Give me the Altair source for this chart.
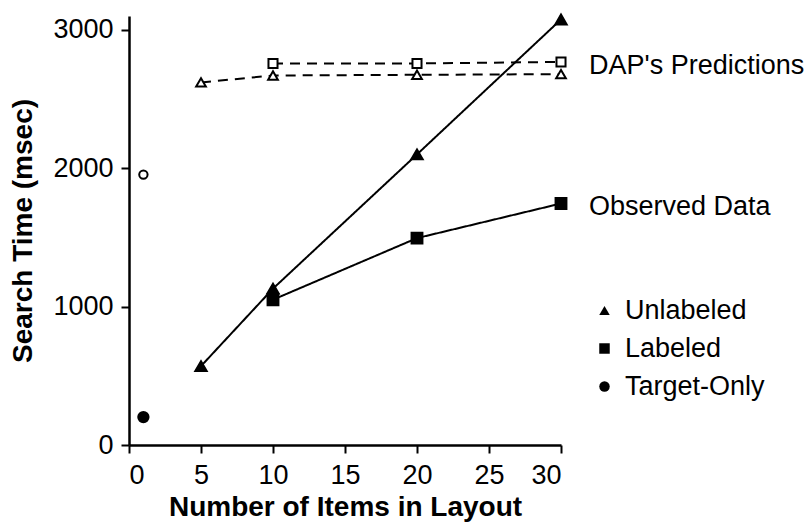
import altair as alt
import pandas as pd

# ---- data ----
unl_items = [5, 10, 20, 30]
unl_observed = [570, 1130, 2100, 3075]
unl_predicted = [2620, 2670, 2675, 2680]

lab_items = [10, 20, 30]
lab_observed = [1050, 1495, 1745]
lab_predicted = [2757, 2757, 2768]

tgt_items = [1]
tgt_observed = [202]
tgt_predicted = [1954]

conditions = ["Unlabeled", "Labeled", "Target-Only"]
sources = ["Observed Data", "DAP's Predictions"]

x_ticks = [0, 5, 10, 15, 20, 25, 30]
y_ticks = [0, 1000, 2000, 3000]

rows = []
for cond, items, obs, pred in [
    ("Unlabeled", unl_items, unl_observed, unl_predicted),
    ("Labeled", lab_items, lab_observed, lab_predicted),
    ("Target-Only", tgt_items, tgt_observed, tgt_predicted),
]:
    for i, o, p in zip(items, obs, pred):
        rows.append({"items": i, "time": o, "condition": cond, "source": "Observed Data",
                     "series": cond + " obs", "marker": cond + "|obs"})
        rows.append({"items": i, "time": p, "condition": cond, "source": "DAP's Predictions",
                     "series": cond + " pred", "marker": cond + "|pred"})
df = pd.DataFrame(rows)

marker_keys = ["Unlabeled|obs", "Labeled|obs", "Target-Only|obs",
               "Unlabeled|pred", "Labeled|pred", "Target-Only|pred"]
marker_sizes = [130, 70, 70, 64, 45, 30]

# annotation labels attached to the right-hand ends of the series
ann = pd.DataFrame({
    "items": [30, 30],
    "time": [2740, 1720],
    "text": ["DAP's Predictions", "Observed Data"],
})

FONT = "Liberation Sans"

x_enc = alt.X("items:Q", title="Number of Items in Layout",
              scale=alt.Scale(domain=[0, 30], nice=False, zero=True),
              axis=alt.Axis(values=x_ticks, format="d"))
y_enc = alt.Y("time:Q", title="Search Time (msec)",
              scale=alt.Scale(domain=[0, 3100], nice=False),
              axis=alt.Axis(values=y_ticks, format="d"))

base = alt.Chart(df)

lines = base.mark_line(color="black", strokeWidth=2).encode(
    x=x_enc, y=y_enc,
    detail="series:N",
    strokeDash=alt.StrokeDash("source:N", scale=alt.Scale(domain=sources, range=[[1, 0], [10, 7]]),
                              legend=None),
)

points = base.mark_point(stroke="black", strokeWidth=2, opacity=1, filled=False).encode(
    x=x_enc, y=y_enc,
    shape=alt.Shape("condition:N",
                    scale=alt.Scale(domain=conditions, range=["triangle-up", "square", "circle"]),
                    legend=alt.Legend(title=None, orient="none", legendX=462, legendY=281,
                                      symbolFillColor="black", symbolStrokeColor="black",
                                      symbolSize=110, symbolStrokeWidth=0,
                                      labelFontSize=27, labelFont=FONT, labelColor="black",
                                      labelOffset=7, rowPadding=10, padding=0)),
    fill=alt.Fill("source:N", scale=alt.Scale(domain=sources, range=["black", "white"]), legend=None),
    size=alt.Size("marker:N", scale=alt.Scale(domain=marker_keys, range=marker_sizes), legend=None),
)

labels = alt.Chart(ann).mark_text(align="left", baseline="middle", dx=28, fontSize=27,
                                  font=FONT, color="black").encode(
    x=alt.X("items:Q"), y=alt.Y("time:Q"), text="text:N")

chart = alt.layer(lines, points, labels).properties(
    width=432, height=429,
    autosize=alt.AutoSizeParams(type="none"),
    padding={"left": 121, "top": 8, "right": 243, "bottom": 80},
).configure_view(stroke=None).configure_axis(
    grid=False, domainColor="black", domainWidth=2.5, tickColor="black", tickWidth=2,
    tickSize=8, labelFontSize=27, labelFont=FONT, labelColor="black",
    titleFontSize=28, titleFont=FONT, titleFontWeight="bold", titleColor="black",
).configure_axisY(titlePadding=15, labelPadding=8).configure_axisX(titlePadding=5, labelPadding=9)

chart.save("out.html", embed_options={"renderer": "svg", "actions": False})
